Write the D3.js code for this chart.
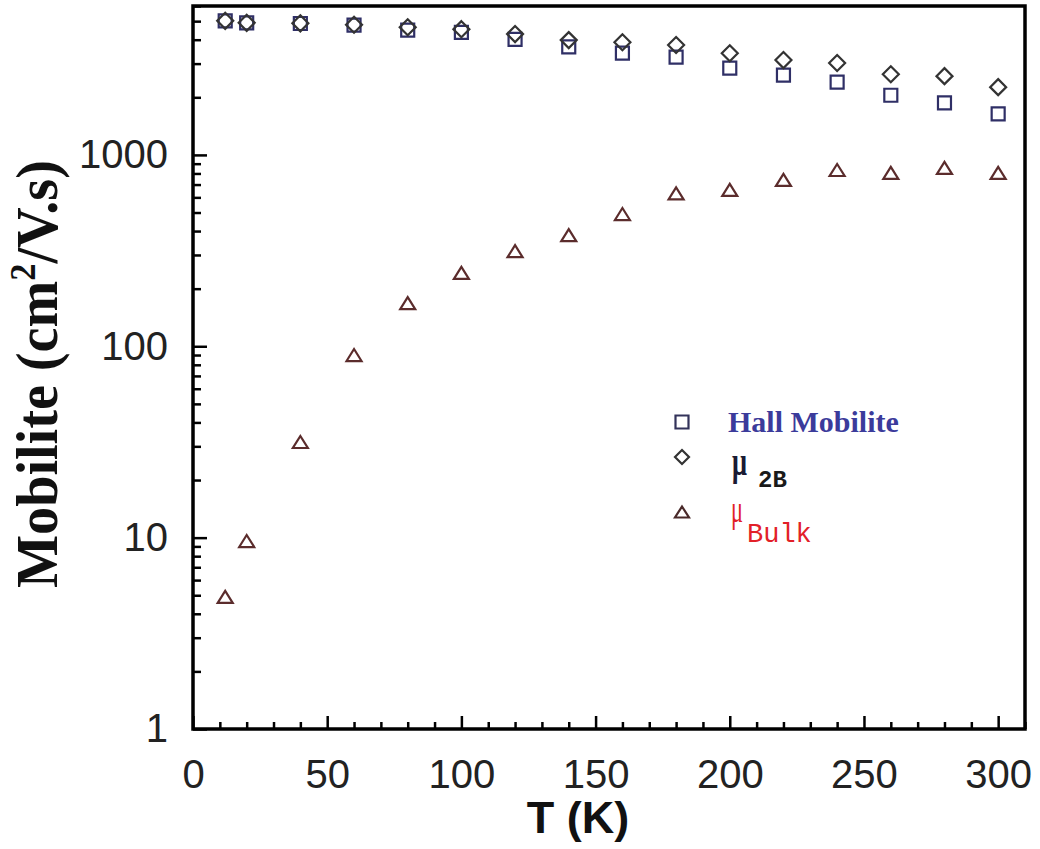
<!DOCTYPE html>
<html>
<head>
<meta charset="utf-8">
<script src="https://cdn.jsdelivr.net/npm/d3@7"></script>
<style>
  body { margin: 0; background: #fff; }
  svg { display: block; }
</style>
</head>
<body>
<script>
// temperatures (K) and the three mobility series (cm2/V.s)
var temps = [12, 20, 40, 60, 80, 100, 120, 140, 160, 180, 200, 220, 240, 260, 280, 300];
var hall  = [5020, 4900, 4860, 4770, 4490, 4370, 4020, 3670, 3400, 3240, 2840, 2610, 2400, 2050, 1870, 1640];
var mu2B  = [5020, 4900, 4870, 4790, 4650, 4540, 4280, 3980, 3880, 3750, 3400, 3130, 3020, 2640, 2580, 2260];
var bulk  = [4.9, 9.6, 31.6, 90, 168, 242, 314, 381, 491, 630, 656, 740, 834, 805, 855, 805];

// tick labels
var xMajor = [0, 50, 100, 150, 200, 250, 300];
var yMajor = [1, 10, 100, 1000];

var w = 1040;
var h = 849;

var svg = d3.select("body")
            .append("svg")
            .attr("width", w)
            .attr("height", h);

// plot box (note: "top" is taken by window.top, so prefix everything)
var boxL = 193, boxR = 1025, boxT = 6, boxB = 729;

var xScale = d3.scaleLinear()
                .domain([0, 310])
                .range([boxL, boxR]);

var yScale = d3.scaleLog()
                .domain([1, 6000])
                .range([boxB, boxT]);

//minor ticks
var xMinor = d3.range(0, 311, 10).filter(function(d) { return d % 50 != 0; });
var yMinor = [];
[1, 10, 100, 1000].forEach(function(b) {
    for (var k = 2; k <= 9; k++) {
        if (b * k <= 6000) yMinor.push(b * k);
    }
});

var tickFont = "Arial, 'Liberation Sans', sans-serif";

// x axis, ticks pointing in
var xAxis = svg.append("g")
    .attr("transform", "translate(0," + boxB + ")")
    .call(d3.axisBottom(xScale).tickValues(xMajor).tickSizeInner(-13).tickSizeOuter(0).tickPadding(31));
xAxis.select(".domain").remove();
xAxis.attr("font-size", 40).attr("font-family", tickFont);
xAxis.selectAll("text").attr("fill", "#222");
xAxis.selectAll("line").attr("stroke", "#000").attr("stroke-width", 2.5);

svg.append("g")
    .attr("transform", "translate(0," + boxB + ")")
    .call(d3.axisBottom(xScale).tickValues(xMinor).tickSizeInner(-7).tickSizeOuter(0).tickFormat(""))
    .call(function(g) {
        g.select(".domain").remove();
        g.selectAll("line").attr("stroke", "#000").attr("stroke-width", 2.5);
    });

// y axis
var yAxis = svg.append("g")
    .attr("transform", "translate(" + boxL + ",0)")
    .call(d3.axisLeft(yScale).tickValues(yMajor).tickSizeInner(-14).tickSizeOuter(0).tickPadding(25)
            .tickFormat(d3.format("d")));
yAxis.select(".domain").remove();
yAxis.attr("font-size", 40).attr("font-family", tickFont);
yAxis.selectAll("text").attr("fill", "#222");
yAxis.selectAll("line").attr("stroke", "#000").attr("stroke-width", 2.5);

svg.append("g")
    .attr("transform", "translate(" + boxL + ",0)")
    .call(d3.axisLeft(yScale).tickValues(yMinor).tickSizeInner(-8).tickSizeOuter(0).tickFormat(""))
    .call(function(g) {
        g.select(".domain").remove();
        g.selectAll("line").attr("stroke", "#000").attr("stroke-width", 2.5);
    });

// frame
svg.append("rect")
    .attr("x", boxL)
    .attr("y", boxT)
    .attr("width", boxR - boxL)
    .attr("height", boxB - boxT)
    .attr("fill", "none")
    .attr("stroke", "#000")
    .attr("stroke-width", 3.5);

// marker shapes
function squarePath(s) {
    var r = s / 2;
    return "M" + (-r) + "," + (-r) + "H" + r + "V" + r + "H" + (-r) + "Z";
}
function diamondPath(s) {
    var r = s / 2;
    return "M0," + (-r) + "L" + r + ",0L0," + r + "L" + (-r) + ",0Z";
}
function trianglePath(wd, ht) {
    return "M0," + (-ht / 2) + "L" + (wd / 2) + "," + (ht / 2) + "L" + (-wd / 2) + "," + (ht / 2) + "Z";
}

var series = [
    { name: "hall", values: hall, path: squarePath(13), color: "#2f2f66" },
    { name: "mu2B", values: mu2B, path: diamondPath(16), color: "#333333" },
    { name: "bulk", values: bulk, path: trianglePath(15, 12), color: "#5b2c2c" }
];

var groups = svg.selectAll("g.series")
    .data(series)
    .enter()
    .append("g")
    .attr("class", "series");

groups.selectAll("path")
    .data(function(s) {
        return s.values.map(function(v, i) { return { t: temps[i], v: v, s: s }; });
    })
    .enter()
    .append("path")
    .attr("d", function(d) { return d.s.path; })
    .attr("transform", function(d) {
        return "translate(" + xScale(d.t) + "," + yScale(d.v) + ")";
    })
    .attr("fill", "none")
    .attr("stroke", function(d) { return d.s.color; })
    .attr("stroke-width", 2.2);

// legend
var legX = 682;
var legend = svg.append("g");
legend.append("path").attr("d", squarePath(13)).attr("transform", "translate(" + legX + ",422)")
    .attr("fill", "none").attr("stroke", "#33335a").attr("stroke-width", 2.2);
legend.append("path").attr("d", diamondPath(14)).attr("transform", "translate(" + legX + ",457)")
    .attr("fill", "none").attr("stroke", "#333").attr("stroke-width", 2.2);
legend.append("path").attr("d", trianglePath(14, 11)).attr("transform", "translate(" + legX + ",512)")
    .attr("fill", "none").attr("stroke", "#4a2a2a").attr("stroke-width", 2.2);

var serif = "'Liberation Serif', 'Times New Roman', serif";
var mono = "'Liberation Mono', 'Courier New', monospace";

legend.append("text")
    .attr("x", 728).attr("y", 432)
    .attr("font-family", serif).attr("font-weight", "bold").attr("font-size", 30)
    .attr("fill", "#3b3b9b")
    .text("Hall Mobilite");

legend.append("text")
    .attr("x", 732).attr("y", 475)
    .attr("font-family", serif).attr("font-weight", "bold").attr("font-size", 40)
    .attr("textLength", 15).attr("lengthAdjust", "spacingAndGlyphs")
    .attr("fill", "#1a1a33")
    .text("\u03bc");
legend.append("text")
    .attr("x", 758).attr("y", 487)
    .attr("font-family", mono).attr("font-weight", "bold").attr("font-size", 24)
    .attr("fill", "#1a1a1a")
    .text("2B");

legend.append("text")
    .attr("x", 731).attr("y", 522)
    .attr("font-family", serif).attr("font-size", 37)
    .attr("textLength", 12).attr("lengthAdjust", "spacingAndGlyphs")
    .attr("fill", "#e22028")
    .text("\u03bc");
legend.append("text")
    .attr("x", 747).attr("y", 542)
    .attr("font-family", mono).attr("font-size", 27)
    .attr("fill", "#e22028")
    .text("Bulk");

// axis titles
svg.append("text")
    .attr("x", 578).attr("y", 833)
    .attr("text-anchor", "middle")
    .attr("font-family", tickFont).attr("font-weight", "bold").attr("font-size", 45)
    .attr("fill", "#111")
    .text("T (K)");

var yTitle = svg.append("text")
    .attr("text-anchor", "middle")
    .attr("font-family", serif).attr("font-weight", "bold").attr("font-size", 59)
    .attr("fill", "#111");
yTitle.append("tspan").text("Mobilite (cm");
yTitle.append("tspan").attr("font-size", 36).attr("dy", -22).text("2");
yTitle.append("tspan").attr("dy", 22).text("/V.s)");

// squeeze the title to the length seen in the picture
var titleLen = yTitle.node().getComputedTextLength();
yTitle.attr("transform", "translate(57,374) rotate(-90) scale(" + (428 / titleLen) + ",1)");
</script>
</body>
</html>
